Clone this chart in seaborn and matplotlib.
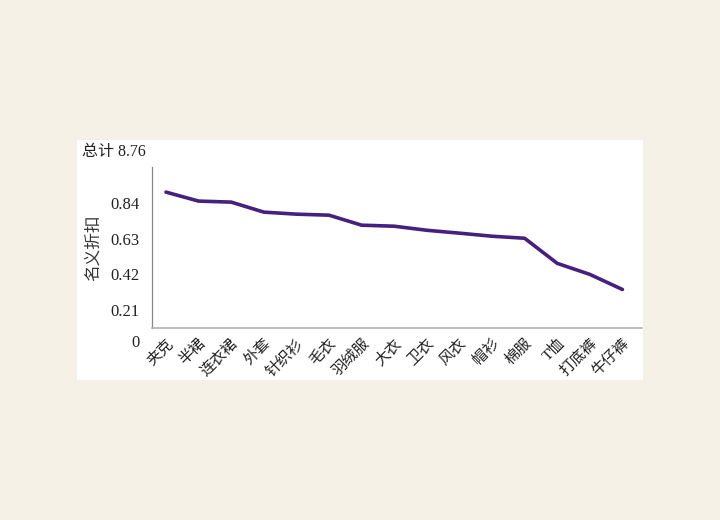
import pandas as pd
import matplotlib.pyplot as plt
import seaborn as sns
from matplotlib.patches import Rectangle

# data
categories = ["夹克", "半裙", "连衣裙", "外套", "针织衫", "毛衣", "羽绒服", "大衣",
              "卫衣", "风衣", "帽衫", "棉服", "T恤", "打底裤", "牛仔裤"]
discount = [0.905, 0.852, 0.846, 0.787, 0.775, 0.769, 0.710, 0.704,
            0.680, 0.663, 0.645, 0.633, 0.485, 0.420, 0.331]
y_ticks = [0.21, 0.42, 0.63, 0.84]
total_label = "总计 8.76"
y_title = "名义折扣"

sns.set_theme(style="white")
fonts = ["Liberation Serif", "Noto Sans CJK SC", "DejaVu Sans"]
plt.rcParams["font.family"] = fonts

df = pd.DataFrame({"cat": categories, "val": discount})
df["pos"] = range(len(df))

fig = plt.figure(figsize=(7.2, 5.2), dpi=100)
fig.patch.set_facecolor("#f6f1e7")
# white panel behind the chart
fig.patches.append(Rectangle((77 / 720, 140 / 520), 566 / 720, 240 / 520,
                             transform=fig.transFigure, facecolor="white",
                             edgecolor="none", zorder=-10))

ax = fig.add_axes([152 / 720, 192 / 520, 490 / 720, 161 / 520])
ax.set_facecolor("white")
sns.lineplot(data=df, x="pos", y="val", ax=ax, color="#46207f", linewidth=2.6)

ax.set_xlim(-0.43, 14.6)
ax.set_ylim(0.104, 1.053)
ax.set_xticks(df["pos"])
ax.set_xticklabels(categories, rotation=45, ha="right", rotation_mode="anchor",
                   fontsize=11)
ax.set_yticks(y_ticks)
ax.set_yticklabels([f"{t:.2f}" for t in y_ticks], fontsize=12)
ax.tick_params(axis="both", length=0, colors="#222222")
ax.tick_params(axis="x", pad=6)
ax.tick_params(axis="y", pad=9)
ax.set_xlabel("")
ax.set_ylabel(y_title, fontsize=12, color="#333333", labelpad=6)

for side in ["top", "right"]:
    ax.spines[side].set_visible(False)
ax.spines["left"].set_color("#888888")
ax.spines["left"].set_linewidth(0.9)
ax.spines["bottom"].set_color("#b0b0b0")
ax.spines["bottom"].set_linewidth(1.2)

fig.text(136 / 720, 1 - 343 / 520, "0", ha="center", va="center",
         fontsize=12, color="#222222")
fig.text(82 / 720, 1 - 152 / 520, total_label, ha="left", va="center",
         fontsize=11.5, color="#222222")

fig.savefig("out.png", dpi=100, facecolor=fig.get_facecolor())
plt.close()
